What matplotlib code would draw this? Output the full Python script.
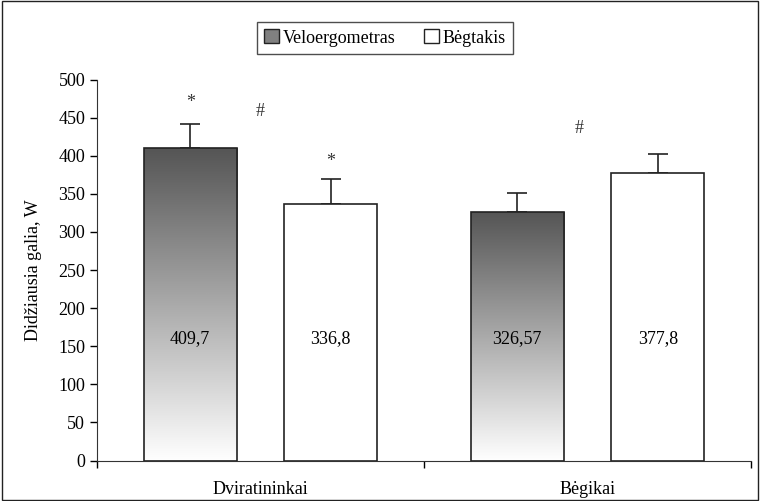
import matplotlib
matplotlib.use("Agg")
import matplotlib.pyplot as plt
import numpy as np
from matplotlib.patches import Rectangle, Patch

# data
groups = ["Dviratininkai", "Bėgikai"]
series = ["Veloergometras", "Bėgtakis"]
velo = [409.7, 326.57]
begt = [336.8, 377.8]
velo_err = [32, 25]
begt_err = [32, 25]
velo_labels = ["409,7", "326,57"]
begt_labels = ["336,8", "377,8"]
# significance marks: (x in category units, y value, symbol)
marks = [(-0.215, 470, "*"), (0.0, 458, "#"), (0.215, 393, "*"), (0.975, 436, "#")]

plt.rcParams["font.family"] = ["Liberation Serif", "DejaVu Serif"]
fs = 13

fig = plt.figure(figsize=(7.6, 5.01), dpi=100)
ax = fig.add_axes([0.1276, 0.0808, 0.8605, 0.7605])

x = np.arange(len(groups))
off = 0.215
w = 0.285

cmap = matplotlib.colors.LinearSegmentedColormap.from_list("g", ["#ffffff", "#555555"])

bars1 = ax.bar(x - off, velo, w, color="none", edgecolor="#222222", linewidth=1.2, zorder=3)
for b in bars1:
    bx, by = b.get_x(), b.get_y()
    bw, bh = b.get_width(), b.get_height()
    im = ax.imshow(np.linspace(0, 1, 256).reshape(-1, 1), extent=[bx, bx + bw, by, by + bh],
                   aspect="auto", cmap=cmap, vmin=0, vmax=1, origin="lower", zorder=2)
    im.set_clip_path(b)

bars2 = ax.bar(x + off, begt, w, color="white", edgecolor="#222222", linewidth=1.2, zorder=3)

ax.errorbar(x - off, velo, yerr=[np.zeros(2), velo_err], fmt="none", ecolor="#222222",
            elinewidth=1.2, capsize=7, capthick=1.2, zorder=1)
ax.errorbar(x + off, begt, yerr=[np.zeros(2), begt_err], fmt="none", ecolor="#222222",
            elinewidth=1.2, capsize=7, capthick=1.2, zorder=1)

for xi, lab in zip(x - off, velo_labels):
    ax.text(xi, 160, lab, ha="center", va="center", fontsize=fs, zorder=4)
for xi, lab in zip(x + off, begt_labels):
    ax.text(xi, 160, lab, ha="center", va="center", fontsize=fs, zorder=4)

for mx, my, s in marks:
    ax.text(mx, my, s, ha="center", va="center", fontsize=fs, color="#333333")

ax.set_xlim(-0.5, 1.5)
ax.set_ylim(0, 500)
ax.set_yticks(range(0, 501, 50))
ax.set_xticks(x)
ax.set_xticklabels(groups, fontsize=fs)
ax.set_xticks([-0.5, 0.5, 1.5], minor=True)
ax.tick_params(axis="x", which="major", length=0, pad=15)
ax.tick_params(axis="x", which="minor", length=5, direction="out", width=1)
ax.tick_params(axis="y", length=5, direction="out", width=1, labelsize=fs)
for s in ["top", "right"]:
    ax.spines[s].set_visible(False)
for s in ["left", "bottom"]:
    ax.spines[s].set_color("#333333")
ax.set_ylabel("Didžiausia galia, W", fontsize=fs, labelpad=12)

handles = [Patch(facecolor="#808080", edgecolor="#222222"),
           Patch(facecolor="white", edgecolor="#222222")]
fig.legend(handles, series, loc="center", bbox_to_anchor=(0.5064, 0.924), ncol=2,
           fontsize=fs, frameon=True, fancybox=False, edgecolor="#222222",
           handlelength=0.8, handleheight=0.8, handletextpad=0.2, columnspacing=1.6,
           borderpad=0.4)

fig.patches.append(Rectangle((0.002, 0.002), 0.996, 0.996, transform=fig.transFigure,
                             fill=False, edgecolor="#222222", linewidth=1.0))

fig.savefig("out.png", dpi=100)
